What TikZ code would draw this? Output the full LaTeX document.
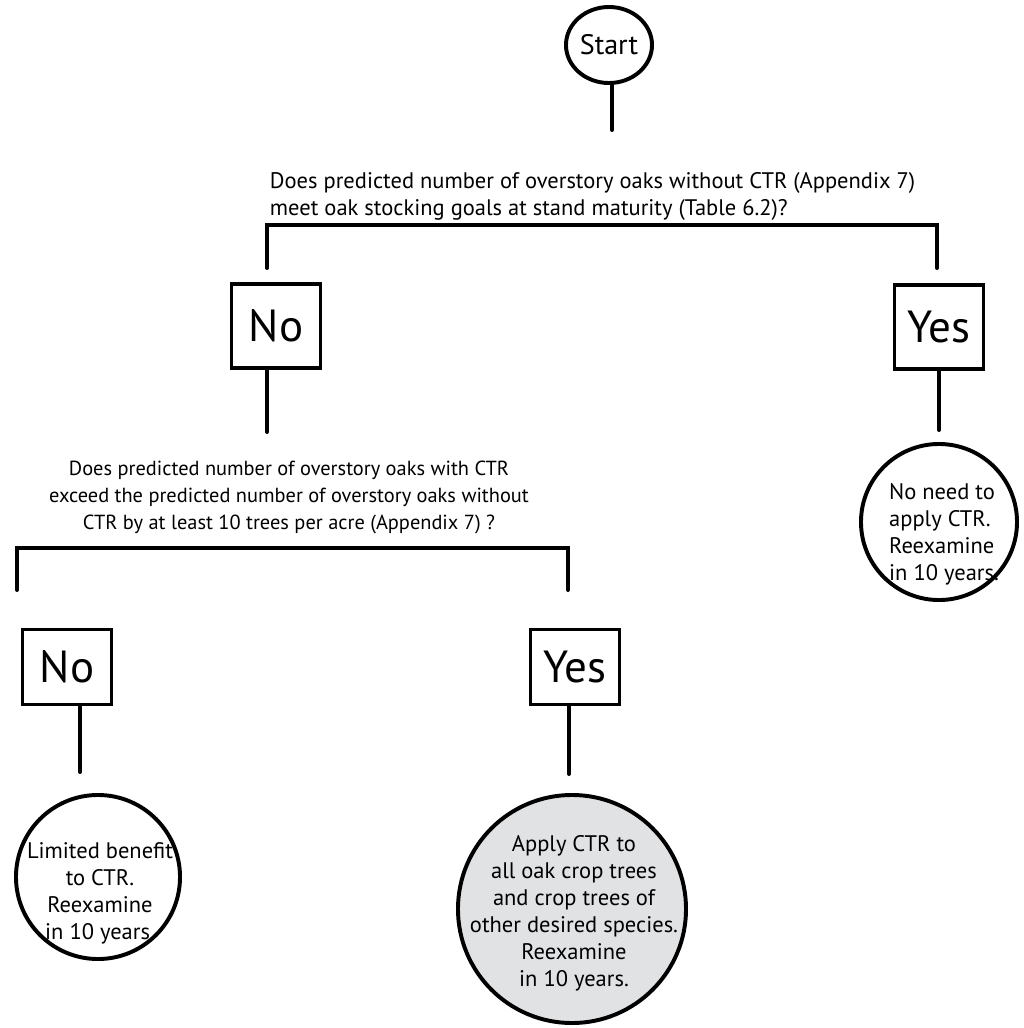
\documentclass[tikz,border=0pt]{standalone}
\usepackage{fontspec}
\setmainfont{PT Sans}
\usetikzlibrary{positioning, shapes.geometric}
\definecolor{cshade}{HTML}{E1E2E4}
\tikzset{
  every picture/.style={line width=2.8pt},
  startnode/.style={draw, ellipse, minimum width=2.15cm, minimum height=1.9cm, inner sep=0pt, font=\fontsize{20}{23}\selectfont},
  answer/.style={draw, rectangle, minimum width=2.225cm, minimum height=2.1cm, inner sep=0pt, font=\fontsize{32}{36}\selectfont},
  outcome/.style={draw, circle, inner sep=0pt},
  outcometext/.style={align=center, inner sep=0pt, font=\fontsize{16}{19.2}\selectfont},
  question/.style={align=left, inner sep=0pt, font=\fontsize{16}{19.2}\selectfont},
  link/.style={line cap=round},
}

\begin{document}
\begin{tikzpicture}[x=0.025cm, y=-0.025cm]
  \useasboundingbox (0,0) rectangle (1024,1028);
  % start
  \node[startnode] (start) at (609,45) {Start};
  \coordinate (start end) at (612,130);
  \draw[link] (start.south -| start end) -- (start end);
  % first question
  \node[question, anchor=west] (q1) at (268,196) {Does predicted number of overstory oaks without CTR (Appendix 7)\\meet oak stocking goals at stand maturity (Table 6.2)?};
  \coordinate (b1l) at (267,268);
  \coordinate (b1r) at (937,268);
  \draw[link] (b1l) -- ++(0,-43) -| (b1r);
  \node[answer] (no1) at (276,326) {No};
  \node[answer] (yes1) at (939,327) {Yes};
  \coordinate (no1 stem) at (267,432);
  \coordinate (yes1 stem) at (939,430);
  \draw[link] (no1.south -| no1 stem) -- (no1 stem);
  \draw[link] (yes1.south) -- (yes1 stem);
  % no need
  \node[outcome, minimum size=3.9cm] (noneed) at (939,522) {};
  \node[outcometext, align=left] (noneed text) at (944,534) {No need to\\apply CTR.\\Reexamine\\in 10 years.};
  % second question
  \node[question, align=center, font=\fontsize{14.5}{19.2}\selectfont] (q2) at (289,497) {Does predicted number of overstory oaks with CTR\\exceed the predicted number of overstory oaks without\\CTR by at least 10 trees per acre (Appendix 7) ?};
  \coordinate (b2l) at (17,590);
  \coordinate (b2r) at (568,590);
  \draw[link] (b2l) -- ++(0,-42) -| (b2r);
  \node[answer, minimum height=1.875cm] (no2) at (67,667) {No};
  \node[answer, minimum height=1.875cm] (yes2) at (575,667) {Yes};
  \coordinate (no2 stem) at (80,772);
  \coordinate (yes2 stem) at (569,774);
  \draw[link] (no2.south -| no2 stem) -- (no2 stem);
  \draw[link] (yes2.south -| yes2 stem) -- (yes2 stem);
  % outcomes
  \node[outcome, minimum size=4.1cm] (limited) at (98,877) {};
  \node[outcometext] (limited text) at (100,893) {Limited benefit\\to CTR.\\Reexamine\\in 10 years.};
  \node[outcome, fill=cshade, minimum size=5.7cm] (apply) at (572,909) {};
  \node[outcometext] (apply text) at (574,913) {Apply CTR to\\all oak crop trees\\and crop trees of\\other desired species.\\Reexamine\\in 10 years.};
\end{tikzpicture}
\end{document}
